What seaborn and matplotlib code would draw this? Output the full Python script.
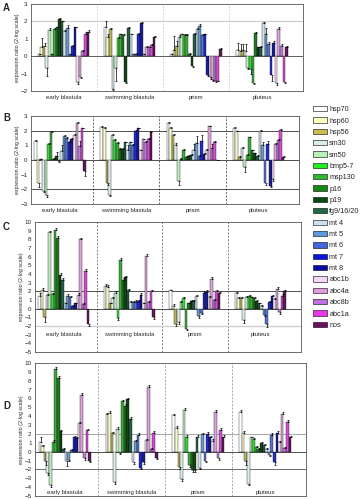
import matplotlib
matplotlib.use("Agg")
import numpy as np
import pandas as pd
import matplotlib.pyplot as plt
import seaborn as sns
from matplotlib.patches import Patch

stages = ["early blastula", "swimming blastula", "prism", "pluteus"]
genes = ["hsp70", "hsp60", "hsp56", "sm30", "sm50", "bmp5-7", "msp130", "p16", "p19",
         "fg9/16/20", "mt 4", "mt 5", "mt 6", "mt 7", "mt 8", "abc1b", "abc4a", "abc8b",
         "abc1a", "nos"]
gene_colors = ["#ffffff", "#ffffc0", "#c8c050", "#d8ecec", "#b8f0b8", "#22ee22", "#30b830",
               "#168816", "#0e4a0e", "#206848", "#cce0f0", "#5a9ad8", "#4466dd", "#0a14e0",
               "#0a0aa8", "#f6d8f6", "#e29ae2", "#c070e0", "#e838e8", "#6a1060"]

# one row per stage, one column per gene (2-log expression ratio)
panel_a = [
    [0.1, 0.5, 0.6, -0.7, 1.5, 0.1, 1.55, 1.65, 2.15, 2.0, 1.45, 1.6, 0.1, 0.6, 1.65, -1.5, -1.2, 0.3, 1.3, 1.4],
    [1.7, 1.1, 1.55, -1.9, -0.7, 1.05, 1.25, 1.2, -1.5, 1.6, 1.25, 0.1, 0.15, 1.3, 1.9, 0.1, 0.55, 0.5, 0.65, 1.1],
    [0.1, 0.35, 0.6, 1.1, 1.25, 1.2, 1.2, 0.15, -0.55, 1.3, 1.55, 1.75, 1.2, 1.25, -1.1, -1.2, -1.35, -1.45, -1.4, 0.4],
    [0.35, 0.3, 0.35, 0.3, -0.65, -0.75, -1.55, 1.35, 0.5, 0.55, 1.9, 1.3, 0.7, -1.1, 0.75, -1.55, 1.55, 0.6, -1.5, 0.55],
]
err_a = [
    [0.05, 0.55, 0.15, 0.45, 0.1, 0.05, 0.05, 0.05, 0.05, 0.05, 0.05, 0.2, 0.05, 0.05, 0.05, 0.1, 0.05, 0.05, 0.1, 0.1],
    [0.3, 0.2, 0.05, 0.05, 0.75, 0.05, 0.05, 0.05, 0.05, 0.05, 0.05, 0.05, 0.05, 0.05, 0.05, 0.05, 0.05, 0.05, 0.05, 0.05],
    [0.05, 0.8, 0.3, 0.1, 0.05, 0.05, 0.05, 0.05, 0.05, 0.05, 0.05, 0.1, 0.05, 0.05, 0.05, 0.1, 0.1, 0.05, 0.05, 0.05],
    [0.4, 0.4, 0.35, 0.4, 0.1, 0.3, 0.05, 0.05, 0.05, 0.05, 0.05, 0.3, 0.1, 0.3, 0.1, 0.1, 0.1, 0.1, 0.05, 0.05],
]

panel_b = [
    [1.3, -1.6, 0.05, -2.1, -2.4, 1.1, 1.9, 0.1, 0.3, -0.1, 0.6, 1.65, 1.5, 1.25, 1.4, 1.7, 2.55, 0.95, 2.15, -0.75],
    [2.25, 2.2, -1.55, -2.4, 1.7, 1.35, 1.15, 0.75, 0.75, 1.2, 0.7, 1.2, 1.05, 2.0, 2.15, 0.65, 1.4, 1.25, 1.4, 1.9],
    [2.55, 2.2, 1.7, 1.05, -1.4, 0.1, 0.7, 0.2, 0.3, 0.35, 0.7, 1.15, 0.3, 1.3, 0.4, 0.7, 2.3, 0.85, 1.25, 0.0],
    [2.2, 1.95, 0.2, 0.85, -0.5, 0.35, 1.55, 0.65, 0.45, 0.3, 2.0, 1.0, -1.6, 1.1, -1.75, -1.3, 1.1, 1.35, 2.05, 0.2],
]
err_b = [
    [0.05, 0.25, 0.05, 0.1, 0.1, 0.05, 0.05, 0.05, 0.25, 0.05, 0.45, 0.05, 0.05, 0.05, 0.1, 0.1, 0.05, 0.35, 0.05, 0.35],
    [0.05, 0.05, 0.15, 0.05, 0.05, 0.05, 0.05, 0.05, 0.05, 0.05, 0.3, 0.05, 0.05, 0.05, 0.05, 0.05, 0.05, 0.05, 0.1, 0.05],
    [0.05, 0.05, 0.05, 0.1, 0.3, 0.05, 0.05, 0.05, 0.05, 0.05, 0.4, 0.5, 0.05, 0.4, 0.05, 0.05, 0.05, 0.25, 0.05, 0.0],
    [0.05, 0.05, 0.05, 0.05, 0.3, 0.05, 0.05, 0.05, 0.05, 0.05, 0.05, 0.2, 0.1, 0.2, 0.1, 0.1, 0.05, 0.05, 0.05, 0.05],
]

panel_c = [
    [1.5, 2.2, -1.0, 1.6, 8.8, 1.7, 9.1, 8.2, 3.9, 3.3, 0.6, 1.5, 1.3, 0.3, 0.6, 1.6, 8.0, 0.5, 4.4, -1.8],
    [2.6, 2.5, 0.6, 1.2, 1.8, -1.1, 5.6, 3.3, 3.6, 2.1, 0.8, 0.8, 0.8, 0.9, 1.6, 0.6, 6.1, 0.8, 2.0, -1.0],
    [2.1, 0.3, -1.8, -1.5, 0.8, 1.2, -2.3, 0.6, 0.9, 0.9, 1.5, -0.9, -0.5, 1.8, 1.9, 1.4, 3.4, 1.0, 2.0, 1.8],
    [1.8, 1.2, 1.2, -1.3, 1.4, 1.5, 1.3, 1.2, 0.9, 0.6, 0.3, -0.7, -1.8, 0.8, 1.5, 1.1, 2.3, -0.4, 1.5, 2.0],
]
err_c = [
    [0.3, 0.2, 0.5, 0.1, 0.2, 0.1, 0.2, 0.2, 0.2, 0.2, 0.1, 0.2, 0.2, 0.1, 0.1, 0.2, 0.2, 0.1, 0.2, 0.2],
    [0.2, 0.2, 0.1, 0.2, 0.2, 0.2, 0.2, 0.2, 0.2, 0.2, 0.1, 0.1, 0.2, 0.1, 0.2, 0.1, 0.2, 0.1, 0.2, 0.2],
    [0.1, 0.2, 0.2, 0.3, 0.1, 0.1, 0.2, 0.1, 0.1, 0.1, 0.1, 0.2, 0.1, 0.2, 0.2, 0.1, 0.2, 0.1, 0.2, 0.1],
    [0.1, 0.2, 0.1, 0.3, 0.1, 0.1, 0.1, 0.1, 0.1, 0.1, 0.1, 0.2, 0.3, 0.1, 0.1, 0.1, 0.2, 0.2, 0.2, 0.1],
]

panel_d = [
    [1.1, 0.6, -1.0, -2.4, -3.8, 1.1, 9.3, 8.3, 2.3, 0.3, -1.0, -0.9, 0.2, 1.7, 1.5, 3.2, 6.4, -0.7, 2.5, -1.0],
    [4.2, 4.4, 2.1, -3.4, 2.6, -0.2, 5.7, 5.2, 5.9, 3.7, -1.2, 1.2, 1.9, -1.8, -1.2, 1.3, 7.3, 0.3, 2.1, -0.7],
    [4.1, 2.7, -1.7, -3.1, 4.7, 1.7, -1.5, -2.1, -2.1, 1.7, -1.8, 2.0, -1.0, 2.0, 1.6, 1.2, 4.5, -0.7, 2.5, 1.7],
    [4.5, 2.1, -1.0, -3.6, 1.6, 1.4, 0.5, 0.3, 1.0, 0.8, 0.3, -0.4, 1.9, -1.2, 2.1, 1.1, 4.3, 0.4, 3.4, 1.7],
]
err_d = [
    [0.6, 0.2, 0.5, 0.2, 0.2, 0.2, 0.2, 0.2, 0.2, 0.1, 0.6, 0.2, 0.1, 0.1, 0.1, 0.1, 0.2, 0.2, 0.1, 0.2],
    [0.2, 0.2, 0.1, 0.2, 0.2, 0.1, 0.1, 0.2, 0.2, 0.2, 0.2, 0.1, 0.2, 0.2, 0.2, 0.1, 0.2, 0.1, 0.2, 0.1],
    [0.2, 0.2, 0.2, 0.2, 0.2, 0.2, 0.2, 0.2, 0.2, 0.2, 0.2, 0.1, 0.2, 0.2, 0.2, 0.2, 0.2, 0.2, 0.2, 0.2],
    [0.2, 0.2, 0.5, 0.2, 0.1, 0.1, 0.1, 0.1, 0.1, 0.1, 0.1, 0.1, 0.2, 0.3, 0.2, 0.1, 0.2, 0.1, 0.2, 0.1],
]

sns.set_style("white")
plt.rcParams["font.family"] = ["Liberation Sans", "DejaVu Sans"]


def to_frame(values):
    rows = []
    for s, stage in enumerate(stages):
        for g, gene in enumerate(genes):
            rows.append({"stage": stage, "gene": gene, "ratio": values[s][g]})
    return pd.DataFrame(rows)


def draw_panel(ax, values, errors, ylim, xlim, hlines, sep_color, label_y=None):
    df = to_frame(values)
    sns.barplot(data=df, x="stage", y="ratio", hue="gene", order=stages, hue_order=genes,
                palette=gene_colors, width=0.78, edgecolor="black", linewidth=0.25,
                errorbar=None, legend=False, ax=ax, zorder=3)

    # one-sided error bars, pointing away from zero
    xs, ys, lo, hi = [], [], [], []
    for g, cont in enumerate(ax.containers):
        for bar in cont:
            xc = bar.get_x() + bar.get_width() / 2
            s = int(round(xc))
            h = bar.get_height()
            e = errors[s][g]
            xs.append(xc + bar.get_width() * 0.25)
            ys.append(h)
            lo.append(e if h < 0 else 0)
            hi.append(e if h >= 0 else 0)
    ax.errorbar(xs, ys, yerr=[lo, hi], fmt="none", ecolor="black", elinewidth=0.5,
                capsize=0.8, capthick=0.5, zorder=4)

    for y, c, lw in hlines:
        ax.axhline(y, color=c, lw=lw, zorder=2)
    for x in [0.5, 1.5, 2.5]:
        ax.axvline(x, color=sep_color, lw=0.5, ls=(0, (3, 2)), zorder=1)

    ax.set_ylim(*ylim)
    ax.set_xlim(*xlim)
    ax.set_yticks(range(ylim[0], ylim[1] + 1))
    ax.tick_params(axis="y", labelsize=4.5, length=1.5, width=0.5, pad=1)
    ax.set_ylabel("expression ratio (2-log scale)", fontsize=3.8, labelpad=0.5)
    ax.set_xlabel("")
    for sp in ax.spines.values():
        sp.set_color("#555555")
        sp.set_linewidth(0.6)
    if label_y is None:
        ax.tick_params(axis="x", labelsize=4.3, length=0, pad=3)
    else:
        ax.set_xticklabels([])
        ax.tick_params(axis="x", length=0)
        for i, st in enumerate(stages):
            ax.text(i, label_y, st, ha="center", va="center", fontsize=4.3)


fig = plt.figure(figsize=(3.64, 4.99), dpi=100)
W, H = 364.0, 499.0
ax_a = fig.add_axes([31 / W, 1 - 91 / H, 272 / W, 87 / H])
ax_b = fig.add_axes([31 / W, 1 - 204 / H, 268 / W, 88 / H])
ax_c = fig.add_axes([35 / W, 1 - 352 / H, 266 / W, 130 / H])
ax_d = fig.add_axes([35 / W, 1 - 496 / H, 271 / W, 133 / H])

draw_panel(ax_a, panel_a, err_a, (-2, 3), (-0.49, 3.62),
           [(2, "#cccccc", 0.9), (0, "#444444", 0.6)], "#c8c8c8")
draw_panel(ax_b, panel_b, err_b, (-3, 3), (-0.44, 3.61),
           [(2, "#333333", 0.6), (0, "#333333", 0.6), (-2, "#333333", 0.6)], "#333333")
draw_panel(ax_c, panel_c, err_c, (-5, 10), (-0.44, 3.62),
           [(2, "#333333", 0.6), (0, "#333333", 0.6), (-2, "#cccccc", 0.9)], "#555555", label_y=-3)
draw_panel(ax_d, panel_d, err_d, (-5, 10), (-0.445, 3.61),
           [(2, "#999999", 0.6), (0, "#333333", 0.6), (-2, "#555555", 0.6)], "#888888", label_y=-4.6)

for lab, y in [("A", 8), ("B", 118), ("C", 227), ("D", 406)]:
    fig.text(3 / W, 1 - y / H, lab, fontsize=7, fontweight="bold", va="center", ha="left")

handles = [Patch(facecolor=c, edgecolor="black", linewidth=0.4) for c in gene_colors]
fig.legend(handles, genes, loc="upper left", bbox_to_anchor=(313 / W, 1 - 106 / H),
           frameon=False, fontsize=5.2, handlelength=1.95, handleheight=0.75,
           handletextpad=0.3, labelspacing=0.58, borderpad=0, borderaxespad=0)

fig.savefig("out.png", dpi=100)
